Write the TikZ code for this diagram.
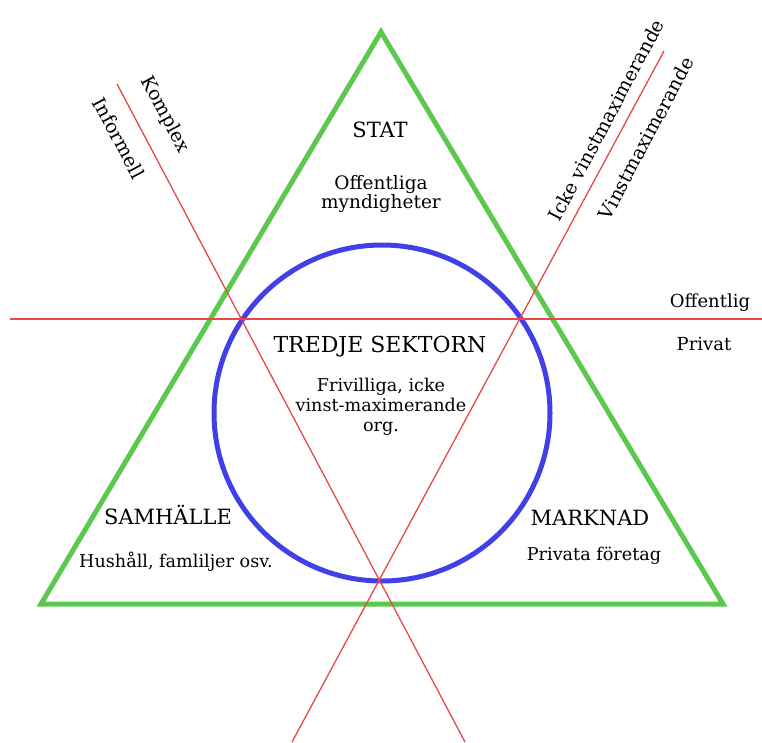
\documentclass[tikz,border=0pt]{standalone}
\usepackage{fontspec}
\setmainfont{DejaVu Serif}
\begin{document}
\begin{tikzpicture}[x=1pt,y=-1pt,
  tri/.style={draw=trigreen,line width=5pt,line join=miter},
  ring/.style={draw=ringblue,line width=5pt},
  axisline/.style={draw=axisred,line width=1.3pt},
  head/.style={font=\fontsize{21}{24}\selectfont,inner sep=0pt,anchor=base},
  sub/.style={font=\fontsize{17.6}{20}\selectfont,inner sep=0pt,align=center,anchor=base},
  dimlabel/.style={font=\fontsize{19}{19}\selectfont,inner sep=0pt},
  sidelabel/.style={font=\fontsize{18}{18}\selectfont,inner sep=0pt,anchor=base}]
\definecolor{trigreen}{RGB}{92,200,80}
\definecolor{ringblue}{RGB}{64,64,230}
\definecolor{axisred}{RGB}{232,72,72}
\useasboundingbox (0,0) rectangle (762,742);
% triangle
\coordinate (T) at (381,32);
\coordinate (BL) at (41,604);
\coordinate (BR) at (723,604);
\draw[tri] (T) -- (BL) -- (BR) -- cycle;
% circle
\coordinate (C) at (382,413);
\draw[ring] (C) circle (168);
% red axes
\coordinate (H1) at (10,319);
\coordinate (H2) at (762,319);
\coordinate (L1) at (117,84);
\coordinate (L2) at (465,742);
\coordinate (R1) at (664,51);
\coordinate (R2) at (292,742);
\draw[axisline,line width=2pt] (H1) -- (H2);
\draw[axisline] (L1) -- (L2);
\draw[axisline] (R1) -- (R2);
% texts
\node[head] (stat) at (380,137) {STAT};
\node[sub,font=\fontsize{18.5}{19.5}\selectfont] (statsub) at (381,208.5) {Offentliga\\myndigheter};
\node[head,font=\fontsize{22}{24}\selectfont] (tredje) at (380,352) {TREDJE SEKTORN};
\node[sub] (tredjesub) at (381,431) {Frivilliga, icke\\vinst-maximerande\\org.};
\node[head] (samh) at (168,524) {SAMHÄLLE};
\node[sub] (samhsub) at (176,567) {Hushåll, famliljer osv.};
\node[head] (mark) at (590,525) {MARKNAD};
\node[sub] (marksub) at (594,560) {Privata företag};
\node[sidelabel] (off) at (710,307) {Offentlig};
\node[sidelabel] (priv) at (704,350) {Privat};
\node[dimlabel,rotate=-62] (kompl) at (165,115) {Komplex};
\node[dimlabel,rotate=-62] (inform) at (119,138) {Informell};
\node[dimlabel,rotate=62] (icke) at (606,120) {Icke vinstmaximerande};
\node[dimlabel,rotate=62] (vinst) at (646,138) {Vinstmaximerande};
\end{tikzpicture}
\end{document}
